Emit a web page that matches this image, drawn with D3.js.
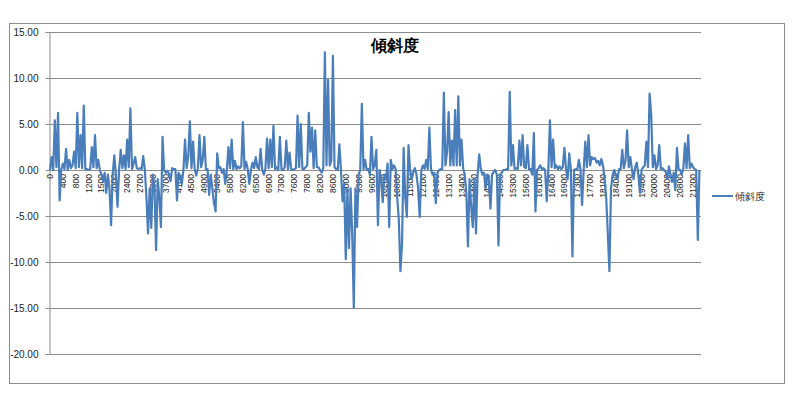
<!DOCTYPE html>
<html><head><meta charset="utf-8">
<script src="https://cdn.jsdelivr.net/npm/d3@7"></script>
<style>
html,body{margin:0;padding:0;background:#fff;}
svg{display:block;}
text{font-family:"Liberation Sans",Arial,sans-serif;}
</style></head>
<body>
<svg id="chart" width="803" height="416"></svg>
<script>
const chartTitle = "傾斜度";
const seriesName = "傾斜度";
const yTicks = [15, 10, 5, 0, -5, -10, -15, -20];
const xLabels = [0,400,800,1200,1500,2000,2400,2700,3300,3700,4100,4500,4900,5400,5800,6200,6500,6900,7300,7600,7800,8200,8600,9000,9300,9600,10200,10800,11500,12100,12400,13100,13400,14000,14300,14900,15300,15600,16100,16400,16900,17300,17700,18100,18400,19100,19400,20000,20400,20800,21200];
const pointsPerLabel = 8;
const values = [
0,1.4,0,5.4,0.3,6.2,-3.3,0,0.7,0.1,
2.3,0,1.1,0.2,0.5,2.0,0.2,6.2,0.3,3.8,
0.2,7.0,0.1,0.1,0,0.1,2.5,0.3,3.8,0.2,
1.1,0,-0.5,-1.2,-0.3,-2.5,-0.5,-2.0,-6.0,-0.5,
1.6,-0.5,-4.0,0.1,2.2,0.2,1.6,0.1,3.3,0.3,
6.7,0.1,0.7,1.4,0.2,0.1,0.2,0.1,1.5,0,
-3.0,-6.9,-2.0,-6.3,-0.5,-2.0,-8.7,-1.0,-3.0,-6.2,
3.6,0,-0.3,-0.1,-0.4,-1.2,0.2,0.1,0.1,-3.3,
-0.3,-0.8,-1.5,0,3.3,0.2,1.5,5.3,0.2,3.1,
0.1,-0.6,0.2,3.8,0.3,1.1,3.6,0,0.1,-2.7,
-0.5,-2.0,-3.6,-4.5,1.8,0.2,0.3,-0.3,0.1,-1.5,
0,2.5,0.2,3.3,0.1,1.0,0.1,0.4,0.2,0.4,
5.2,0.1,0.9,0.1,-1.5,0,0.8,0.2,1.4,0.3,
0.1,2.3,0.1,-0.5,0.1,3.4,0.2,3.3,0.3,4.8,
0.1,0.3,0,3.6,0.1,0,0.3,3.2,0.1,1.9,
0.1,0,0.1,0.2,5.9,0.3,5.0,0.1,0.1,0.3,
0.5,6.2,2.0,4.6,0.2,4.3,0.3,0.3,0,-0.3,
0.2,12.8,0.5,9.8,0.5,1.0,12.4,0.3,0.1,0,
2.8,0,-3.4,-1.5,-9.7,-2.0,-8.5,-2.0,-7.0,-15.0,
-2.0,-6.2,-0.5,0,7.2,0.1,1.1,0,0.1,-0.5,
3.6,0.1,0.5,2.2,-6.0,0,-1.0,-3.5,-0.5,-1.0,
0.7,-6.2,1.1,0.1,0.5,0.1,-3.0,-5.4,-11.0,-8.0,
2.4,-3.0,-5.1,2.7,0,-1.0,-0.2,0.2,-0.5,-2.0,
-5.1,0,0.5,0.1,1.1,0.1,4.6,0.1,-0.5,-0.3,
-3.6,-0.3,0,0.1,0.1,8.4,0.5,2.0,6.3,0.5,
3.2,0.5,6.5,0.5,8.0,0.5,3.3,0.2,-0.5,-2.5,
-8.3,-1.0,-4.0,-6.2,-1.0,-6.9,-0.5,1.7,0.1,-0.5,
-0.3,-2.0,-0.5,-1.0,-4.2,-0.5,-0.2,0,-0.5,-8.2,
-0.5,-0.3,0,0,0.1,0.1,8.5,0.5,2.7,0.1,
0.2,0.1,3.2,0.5,3.8,0.3,0.2,2.7,0.1,0.1,
-0.5,4.0,-4.5,0,0.2,0.5,0.1,0.2,0,-3.4,
0,5.4,0.3,3.3,0.2,0.5,0.1,0.4,0.1,0.3,
2.4,0.1,-1.0,1.8,0.1,-9.4,0,0.1,0,1.1,
0.1,-3.8,0,3.1,0.3,3.8,0.5,1.4,1.2,1.3,
0.8,1.0,0.5,1.2,0.5,-1.0,-3.0,-6.9,-11.0,-2.0,
-0.5,0,-0.5,-1.0,0.1,0.1,2.2,0.2,1.0,4.3,
0.3,1.4,0.1,-1.0,0.3,0.8,-0.5,-2.5,0,0.3,
0.5,3.1,0.3,8.3,6.0,0.3,1.6,0.1,0.5,2.7,
0.1,0.2,0,-0.2,-1.0,0.4,-0.5,-1.3,-0.3,-2.2,
2.4,0.1,0,-0.5,0.2,2.9,0.2,3.8,0.2,0.7,
0.3,0.1,0,-7.6,0
];

const svg = d3.select("#chart");
const plot = {left: 49, right: 701, top: 32, bottom: 354};

// chart border
svg.append("rect").attr("x", 9.5).attr("y", 23.5).attr("width", 775).attr("height", 360)
  .attr("fill", "#fff").attr("stroke", "#8c8c8c").attr("stroke-width", 1);

const x = d3.scaleLinear()
  .domain([0, (xLabels.length - 1) * pointsPerLabel])
  .range([50, 693]);
const y = d3.scaleLinear().domain([-20, 15]).range([plot.bottom, plot.top]);

// gridlines
svg.append("g").selectAll("line").data(yTicks).join("line")
  .attr("x1", plot.left).attr("x2", plot.right)
  .attr("y1", d => Math.round(y(d)) + 0.5).attr("y2", d => Math.round(y(d)) + 0.5)
  .attr("stroke", "#8c8c8c").attr("stroke-width", 1);

// y axis
const yAxis = d3.axisLeft(y).tickValues(yTicks).tickFormat(d => d.toFixed(2))
  .tickSize(4).tickPadding(7);
const gy = svg.append("g").attr("transform", `translate(${plot.left + 0.5},0)`).call(yAxis);
gy.select(".domain").attr("stroke", "#8c8c8c");
gy.selectAll(".tick line").attr("stroke", "#8c8c8c");
gy.selectAll(".tick text").attr("font-size", 10).attr("fill", "#222")
  .attr("font-family", "'Liberation Sans', Arial, sans-serif");

// category labels (rotated) along zero line
svg.append("g").selectAll("text").data(xLabels).join("text")
  .attr("transform", (d, k) => `translate(${x(k * pointsPerLabel)},${y(0) + 4}) rotate(-90)`)
  .attr("text-anchor", "end")
  .attr("dominant-baseline", "central")
  .attr("font-size", 8.5)
  .attr("fill", "#222")
  .text(d => d);

// series line
const line = d3.line().x((d, i) => x(i)).y(d => y(d));
svg.append("path").datum(values)
  .attr("d", line)
  .attr("fill", "none")
  .attr("stroke", "#4A7EBB")
  .attr("stroke-width", 2.2)
  .attr("stroke-linejoin", "round");

// title
svg.append("text").attr("x", 395).attr("y", 51).attr("text-anchor", "middle")
  .attr("font-family", "'Noto Sans CJK JP', sans-serif")
  .attr("font-size", 16).attr("font-weight", "bold").attr("fill", "#000")
  .text(chartTitle);

// legend
const lg = svg.append("g").attr("transform", "translate(712,196)");
lg.append("line").attr("x1", 0).attr("x2", 21).attr("y1", 0).attr("y2", 0)
  .attr("stroke", "#4A7EBB").attr("stroke-width", 2);
lg.append("text").attr("x", 23).attr("y", 0).attr("dominant-baseline", "central")
  .attr("font-family", "'Noto Sans CJK JP', sans-serif")
  .attr("font-size", 10).attr("fill", "#222").text(seriesName);
</script>
</body></html>
